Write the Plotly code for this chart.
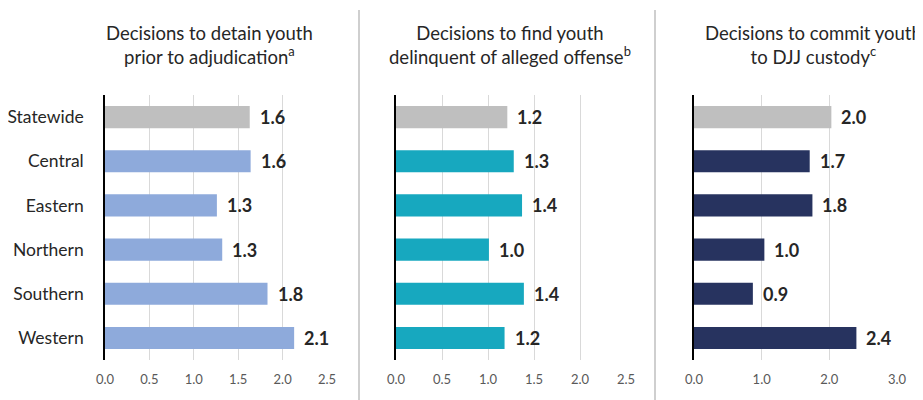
import plotly.graph_objects as go
from plotly.subplots import make_subplots

# data
regions = ['Statewide', 'Central', 'Eastern', 'Northern', 'Southern', 'Western']
detain = [1.63, 1.64, 1.26, 1.32, 1.83, 2.13]
delinquent = [1.21, 1.28, 1.37, 1.01, 1.39, 1.18]
commit = [2.03, 1.71, 1.75, 1.04, 0.87, 2.40]

titles = ['Decisions to detain youth<br>prior to adjudication<sup>a</sup>',
          'Decisions to find youth<br>delinquent of alleged offense<sup>b</sup>',
          'Decisions to commit youth<br>to DJJ custody<sup>c</sup>']
panel_colors = ['#8eaadb', '#17a8bf', '#27335f']
statewide_color = '#bfbfbf'

FONT = 'Lato, "Open Sans", sans-serif'
# page body has an 8px margin, so the figure is sized to fit inside the window
OFF = 8
W, H = 923 - OFF, 400 - OFF


def px_x(p):
    return (p - OFF) / W


def px_y(p):
    return 1 - (p - OFF) / H


fig = make_subplots(rows=1, cols=3)

series = [detain, delinquent, commit]
x_domains = [(px_x(105), px_x(327)), (px_x(396), px_x(626)), (px_x(694), px_x(897))]
x_ranges = [[0, 2.5], [0, 2.5], [0, 3.0]]
x_dticks = [0.5, 0.5, 1.0]
title_x = [px_x(209), px_x(510), px_x(813)]

for i, vals in enumerate(series):
    col = i + 1
    colors = [statewide_color] + [panel_colors[i]] * (len(regions) - 1)
    fig.add_trace(go.Bar(
        x=vals, y=regions, orientation='h',
        marker=dict(color=colors, line=dict(width=0)),
        hoverinfo='x+y', showlegend=False,
    ), row=1, col=col)
    # value labels
    xa = 'x' if i == 0 else 'x%d' % col
    ya = 'y' if i == 0 else 'y%d' % col
    for r, v in zip(regions, vals):
        fig.add_annotation(x=v, y=r, xref=xa, yref=ya, text='<b>%.1f</b>' % v,
                           showarrow=False, xanchor='left', xshift=8,
                           font=dict(size=18, color='#262626', family=FONT))
    fig.update_xaxes(domain=list(x_domains[i]), range=x_ranges[i], dtick=x_dticks[i],
                     tickformat='.1f', showgrid=True, gridcolor='#d9d9d9', gridwidth=1,
                     zeroline=False, showline=False, ticks='', automargin=False,
                     ticklabelstandoff=10,
                     tickfont=dict(size=13, color='#595959', family=FONT),
                     row=1, col=col)
    fig.update_yaxes(domain=[px_y(360), px_y(95)], autorange='reversed',
                     showline=True, linecolor='#000000', linewidth=1.5,
                     showgrid=False, ticks='', automargin=False,
                     showticklabels=(i == 0), ticklabelstandoff=16,
                     tickfont=dict(size=17.5, color='#262626', family=FONT),
                     row=1, col=col)
    fig.add_annotation(x=title_x[i], y=px_y(45), xref='paper', yref='paper',
                       text=titles[i], showarrow=False, xanchor='center', yanchor='middle',
                       font=dict(size=18.5, color='#262626', family=FONT))

# vertical separators between panels
for sx in [359, 655]:
    fig.add_shape(type='line', xref='paper', yref='paper',
                  x0=px_x(sx), x1=px_x(sx), y0=0, y1=px_y(10),
                  line=dict(color='#cfcfcf', width=2))

fig.update_layout(width=W, height=H, margin=dict(l=0, r=0, t=0, b=0),
                  paper_bgcolor='white', plot_bgcolor='white',
                  bargap=0.5, font=dict(family=FONT))

fig.write_html('out.html')
